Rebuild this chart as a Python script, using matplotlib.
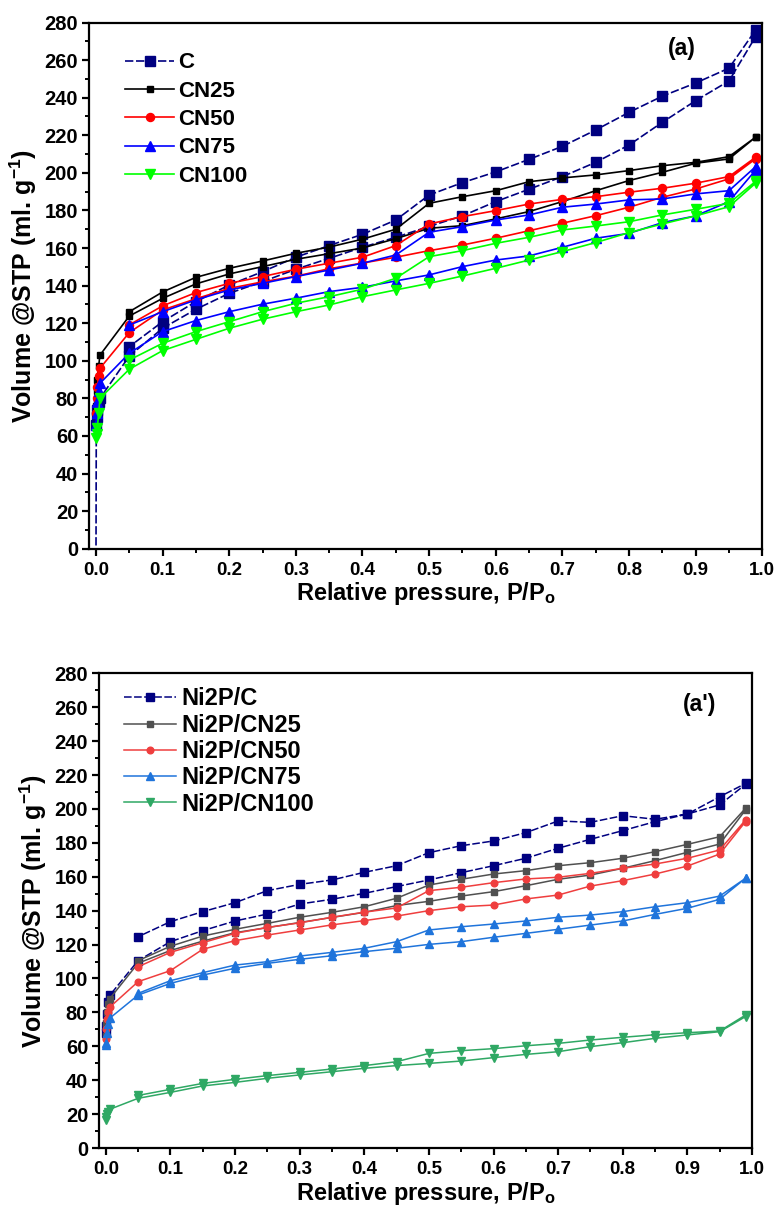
import numpy as np
import matplotlib
matplotlib.use("Agg")
import matplotlib.pyplot as plt
from matplotlib.ticker import MultipleLocator, FormatStrFormatter

plt.rcParams['font.family'] = ['Liberation Sans', 'DejaVu Sans']
plt.rcParams['font.weight'] = 'bold'
plt.rcParams['mathtext.fontset'] = 'custom'
plt.rcParams['mathtext.rm'] = 'Liberation Sans:bold'
plt.rcParams['mathtext.bf'] = 'Liberation Sans:bold'
plt.rcParams['mathtext.default'] = 'rm'

# ---------------- relative pressure grids ----------------
p_low = [0.0005, 0.001, 0.002, 0.004, 0.006]
p_main = [0.05, 0.1, 0.15, 0.2, 0.25, 0.3, 0.35, 0.4, 0.45, 0.5,
          0.55, 0.6, 0.65, 0.7, 0.75, 0.8, 0.85, 0.9, 0.95, 0.99]
p_ads = p_low + p_main
p_des = p_main[::-1]

# ---------------- panel (a): carbon supports ----------------
c_ads_p = [0.0] + p_ads
c_ads = [-10, 66, 70, 74, 78, 80,
         102.5, 117.3, 127.4, 135.9, 142.1, 148.7, 154.5, 160.4, 165.7, 171.5,
         177.1, 184.7, 191.3, 198.0, 205.6, 214.8, 226.9, 238.4, 248.9, 272.5]
c_des = [276.0, 255.7, 247.8, 240.8, 232.2, 222.8, 214.1, 207.2, 200.5, 194.8,
         188.2, 174.9, 167.3, 161.3, 155.1, 147.4, 140.3, 131.5, 120.8, 107.5]

cn25_ads = [76, 84, 90, 97, 103,
            123.8, 133.2, 140.9, 146.2, 150.1, 154.0, 157.0, 160.0, 165.0, 170.5,
            171.9, 175.5, 179.4, 184.7, 190.5, 195.9, 200.3, 205.1, 207.4, 219.0]
cn25_des = [219.0, 208.6, 205.6, 203.8, 201.2, 198.9, 197.3, 195.3, 190.5, 187.3,
            183.8, 170.0, 164.7, 160.5, 157.2, 153.1, 149.2, 144.4, 136.6, 126.1]

cn50_ads = [72, 80, 86, 92, 96,
            115.0, 127.0, 133.0, 138.5, 142.0, 145.0, 149.0, 152.0, 155.1, 158.6,
            161.6, 165.2, 169.2, 173.2, 177.2, 181.7, 187.0, 191.4, 196.8, 207.5]
cn50_des = [208.3, 198.0, 194.5, 191.8, 189.7, 187.3, 185.9, 183.4, 179.9, 176.7,
            172.8, 161.3, 155.1, 151.9, 148.7, 144.8, 141.2, 136.3, 129.2, 119.1]

cn75_ads = [66, 72, 78, 84, 88,
            104.0, 115.5, 121.4, 126.1, 130.1, 133.3, 136.8, 139.1, 142.5, 145.7,
            150.1, 153.6, 155.8, 160.4, 165.2, 167.8, 173.5, 177.1, 184.7, 201.5]
cn75_des = [203.3, 190.5, 188.8, 186.1, 185.6, 183.4, 181.7, 177.6, 174.9, 171.4,
            168.4, 156.3, 151.9, 148.3, 144.8, 141.2, 137.7, 132.4, 126.1, 119.0]

cn100_ads = [59, 61, 64, 72, 80,
             95.5, 105.4, 111.4, 117.3, 122.1, 126.1, 129.7, 134.1, 137.7, 141.2,
             145.1, 149.2, 153.6, 158.1, 162.9, 168.2, 172.8, 177.1, 182.0, 194.5]
cn100_des = [195.5, 183.8, 180.6, 177.6, 174.0, 171.7, 169.6, 165.7, 162.5, 158.6,
             155.4, 143.9, 138.1, 134.1, 130.6, 126.1, 120.8, 115.5, 109.3, 100.4]

# ---------------- panel (a'): Ni2P on the supports ----------------
nc_ads = [68, 72, 79, 86, 90,
          110.5, 121.7, 128.2, 133.9, 138.0, 143.9, 146.7, 150.2, 154.2, 158.1,
          162.4, 166.5, 170.9, 176.8, 182.1, 187.2, 192.5, 197.0, 202.4, 214.5]
nc_des = [215.0, 207.2, 197.0, 193.9, 196.0, 192.1, 192.9, 186.0, 181.1, 178.3,
          174.2, 166.5, 162.6, 158.1, 155.5, 151.8, 144.7, 139.4, 133.5, 124.6]

n25_ads = [66, 74, 80, 85, 88,
           109.0, 116.5, 122.0, 127.0, 130.0, 133.0, 136.0, 139.0, 143.0, 145.5,
           148.6, 151.2, 154.7, 158.5, 161.0, 165.0, 169.5, 174.4, 179.3, 199.4]
n25_des = [200.4, 183.6, 179.1, 174.8, 170.9, 168.3, 166.5, 163.6, 161.6, 158.5,
           155.1, 147.3, 142.3, 139.0, 136.1, 132.5, 129.0, 125.0, 119.0, 110.5]

n50_ads = [64, 70, 76, 80, 83,
           98.1, 104.6, 117.2, 122.3, 125.6, 128.6, 131.6, 134.1, 136.8, 140.0,
           142.3, 143.3, 146.9, 149.2, 154.5, 157.7, 161.6, 166.3, 173.4, 192.5]
n50_des = [193.5, 175.8, 170.9, 167.5, 165.0, 162.0, 159.7, 158.7, 156.5, 153.8,
           151.8, 141.6, 139.1, 136.1, 132.8, 130.1, 126.6, 121.1, 115.4, 106.9]

n75_ads = [61, 62, 68, 73, 76.5,
           90.2, 97.1, 102.0, 106.0, 108.9, 111.3, 113.4, 115.8, 117.8, 120.1,
           121.7, 124.3, 126.6, 129.0, 131.5, 133.9, 137.8, 141.4, 146.7, 159.1]
n75_des = [159.1, 148.6, 144.7, 142.3, 139.4, 137.4, 136.1, 133.9, 132.1, 130.5,
           128.6, 121.7, 117.8, 115.4, 113.2, 109.9, 107.9, 103.4, 98.7, 91.2]

n100_ads = [16.5, 18, 20, 21.5, 22.8,
            29.3, 32.8, 36.6, 38.7, 41.1, 43.1, 45.0, 47.0, 48.6, 49.9,
            51.3, 53.3, 55.2, 56.8, 59.8, 62.1, 64.7, 66.7, 68.6, 77.5]
n100_des = [78.4, 69.0, 68.0, 66.8, 65.3, 63.7, 61.7, 60.3, 58.6, 57.4,
            55.8, 50.9, 48.6, 46.6, 44.6, 42.7, 40.5, 38.1, 34.6, 31.0]

labels_a = ['C', 'CN25', 'CN50', 'CN75', 'CN100']
labels_b = ['Ni2P/C', 'Ni2P/CN25', 'Ni2P/CN50', 'Ni2P/CN75', 'Ni2P/CN100']

dash = (0, (5, 1.6))
styles_a = [
    dict(color='#000080', marker='s', ms=7.0, ls=dash),
    dict(color='#000000', marker='s', ms=5.0, ls='-'),
    dict(color='#FF0000', marker='o', ms=5.8, ls='-'),
    dict(color='#0000FF', marker='^', ms=6.5, ls='-'),
    dict(color='#00FF00', marker='v', ms=6.5, ls='-'),
]
styles_b = [
    dict(color='#000080', marker='s', ms=5.8, ls=dash),
    dict(color='#505050', marker='s', ms=4.3, ls='-'),
    dict(color='#EF3E3E', marker='o', ms=4.8, ls='-'),
    dict(color='#1F74DB', marker='^', ms=5.5, ls='-'),
    dict(color='#2FA864', marker='v', ms=5.5, ls='-'),
]

series_a = [(c_ads_p, c_ads, c_des), (p_ads, cn25_ads, cn25_des),
            (p_ads, cn50_ads, cn50_des), (p_ads, cn75_ads, cn75_des),
            (p_ads, cn100_ads, cn100_des)]
series_b = [(p_ads, nc_ads, nc_des), (p_ads, n25_ads, n25_des),
            (p_ads, n50_ads, n50_des), (p_ads, n75_ads, n75_des),
            (p_ads, n100_ads, n100_des)]

W, H = 778, 1218
fig = plt.figure(figsize=(W / 100, H / 100), dpi=100)


def box(l, t, r, b):
    return [l / W, 1 - b / H, (r - l) / W, (b - t) / H]


ax_a = fig.add_axes(box(89.3, 22.5, 762.3, 548.7))
ax_b = fig.add_axes(box(99.3, 673.3, 752.0, 1148.0))


def draw(ax, series, styles, labels, lw, leg_fs, leg_anchor, leg_sp, hl, htp):
    for (pa, va, vd), st, lab in zip(series, styles, labels):
        px = list(pa) + p_des
        vy = list(va) + list(vd)
        ax.plot(px, vy, color=st['color'], marker=st['marker'], ms=st['ms'],
                ls=st['ls'], lw=lw, mec=st['color'], mfc=st['color'],
                label=lab, clip_on=True)
    ax.set_xlim(-0.01, 1.0)
    ax.set_ylim(0, 280)
    ax.xaxis.set_major_locator(MultipleLocator(0.1))
    ax.xaxis.set_minor_locator(MultipleLocator(0.05))
    ax.yaxis.set_major_locator(MultipleLocator(20))
    ax.yaxis.set_minor_locator(MultipleLocator(10))
    ax.xaxis.set_major_formatter(FormatStrFormatter('%.1f'))
    for s in ax.spines.values():
        s.set_linewidth(1.6)
    ax.tick_params(which='major', direction='out', length=5, width=1.6,
                   top=False, right=False)
    ax.tick_params(which='minor', direction='out', length=3, width=1.4,
                   top=False, right=False)
    ax.tick_params(axis='x', which='major', labelsize=13.5, pad=4.5)
    ax.tick_params(axis='y', which='major', labelsize=14.5, pad=3)
    for t in ax.get_xticklabels() + ax.get_yticklabels():
        t.set_fontweight('bold')
    ax.set_xlabel('Relative pressure, P/P$_{o}$', fontsize=17,
                  fontweight='bold', labelpad=1)
    ax.set_ylabel('Volume @STP (ml. g$^{-1}$)', fontsize=18,
                  fontweight='bold', labelpad=4)
    leg = ax.legend(loc='upper left', bbox_to_anchor=leg_anchor, frameon=False,
                    prop=dict(size=leg_fs, weight='bold'), labelspacing=leg_sp,
                    handlelength=hl, handletextpad=htp, borderaxespad=0)
    return leg


draw(ax_a, series_a, styles_a, labels_a, 1.2, 16, (0.04, 0.96), 0.33, 2.2, 0.2)
draw(ax_b, series_b, styles_b, labels_b, 1.1, 17, (0.024, 0.99), 0.14, 2.2, 0.2)

ax_a.text(0.88, 0.95, '(a)', transform=ax_a.transAxes, fontsize=16.5,
          fontweight='bold', ha='center', va='center')
ax_b.text(0.92, 0.935, "(a')", transform=ax_b.transAxes, fontsize=16.5,
          fontweight='bold', ha='center', va='center')

fig.savefig('out.png', dpi=100)
